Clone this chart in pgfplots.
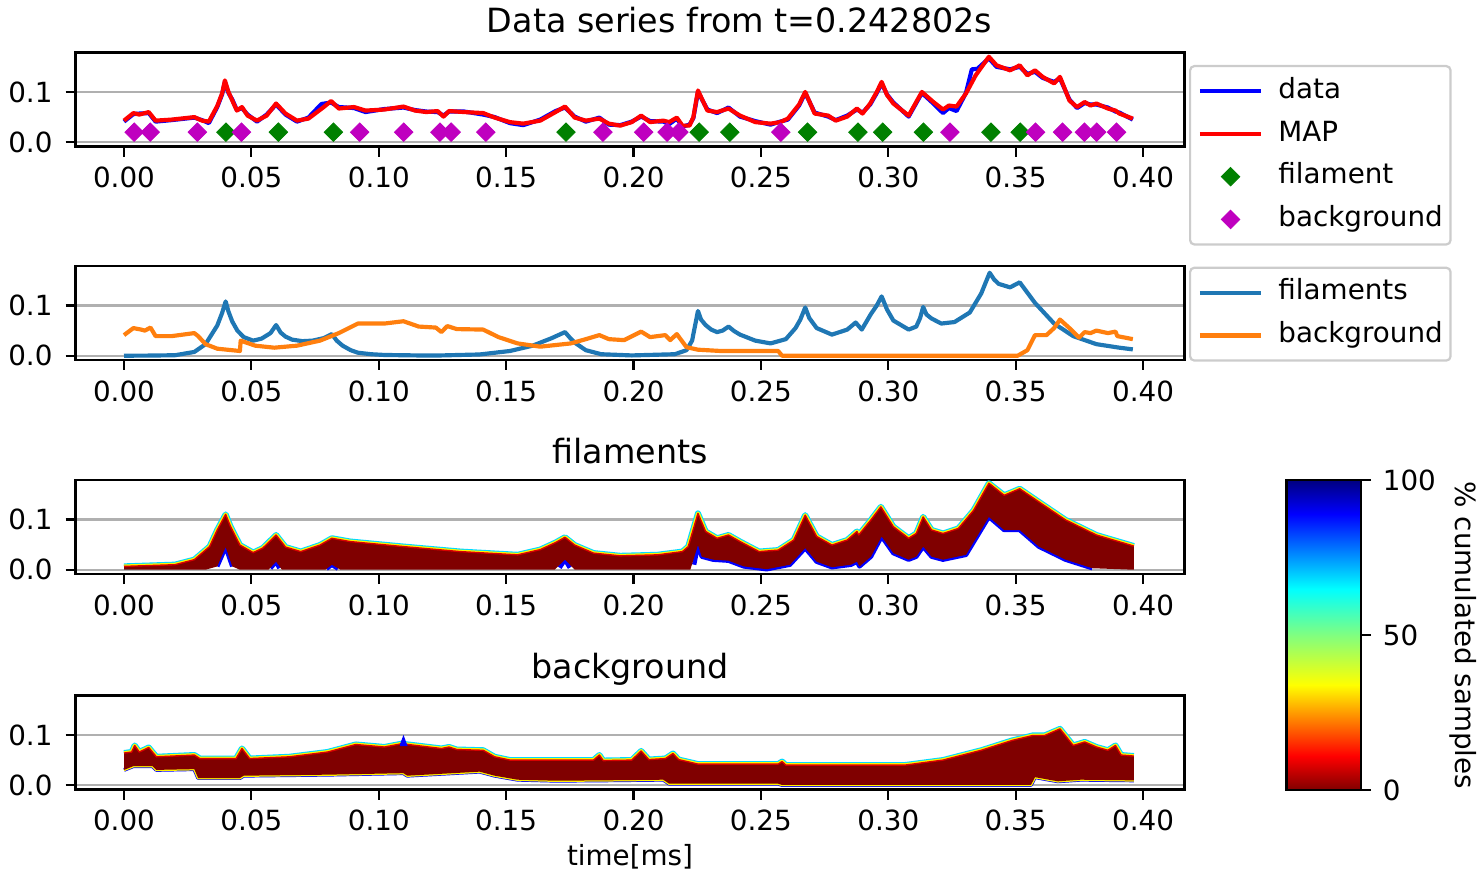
\documentclass[border=0pt]{standalone}
\usepackage{fontspec}
\setmainfont{DejaVu Sans}
\usepackage{pgfplots}
\usepackage{pgfplotstable}
\pgfplotsset{compat=1.18}

\definecolor{mplblue}{HTML}{1F77B4}
\definecolor{mplorange}{HTML}{FF7F0E}
\definecolor{mplgreen}{rgb}{0,0.5,0}
\definecolor{mplmagenta}{rgb}{0.75,0,0.75}
\definecolor{jetdark}{rgb}{0.5,0,0}
\definecolor{gridgray}{HTML}{B0B0B0}
\definecolor{legendedge}{HTML}{CCCCCC}
\definecolor{jetcyan}{rgb}{0,0.86,1}

% ---------------- measured signal and MAP estimate ----------------
\pgfplotstableread{
t v
0.0 0.041
0.0037 0.056
0.006 0.057
0.0097 0.058
0.0124 0.041
0.0187 0.044
0.0276 0.049
0.0306 0.044
0.0333 0.038
0.0366 0.070
0.0385 0.095
0.0396 0.120
0.041 0.098
0.0425 0.085
0.0443 0.064
0.0463 0.068
0.0485 0.055
0.0522 0.041
0.056 0.055
0.0597 0.075
0.0634 0.055
0.0679 0.041
0.0724 0.049
0.0775 0.076
0.0813 0.079
0.0843 0.070
0.0903 0.068
0.0948 0.060
0.1022 0.066
0.1097 0.069
0.1142 0.064
0.1187 0.061
0.1231 0.060
0.1254 0.053
0.1276 0.061
0.1336 0.061
0.141 0.055
0.1455 0.050
0.1515 0.038
0.1567 0.034
0.1634 0.045
0.1694 0.062
0.1731 0.069
0.1769 0.051
0.1813 0.041
0.1866 0.049
0.1903 0.035
0.1948 0.034
0.1993 0.041
0.203 0.051
0.2065 0.042
0.2117 0.041
0.214 0.036
0.217 0.047
0.2192 0.031
0.222 0.035
0.2235 0.048
0.2253 0.100
0.229 0.065
0.2328 0.058
0.2373 0.069
0.2418 0.051
0.2478 0.042
0.2538 0.035
0.2576 0.041
0.2606 0.045
0.265 0.073
0.2674 0.098
0.2711 0.059
0.2764 0.051
0.2794 0.044
0.2839 0.053
0.2877 0.065
0.2899 0.059
0.2929 0.075
0.2955 0.098
0.2974 0.117
0.2995 0.095
0.302 0.079
0.308 0.051
0.3132 0.098
0.3177 0.077
0.3215 0.058
0.3238 0.068
0.3268 0.062
0.3305 0.098
0.3328 0.145
0.3350 0.146
0.3395 0.167
0.3425 0.150
0.3478 0.145
0.3516 0.150
0.3546 0.136
0.3576 0.140
0.3606 0.128
0.3651 0.120
0.3674 0.127
0.3711 0.085
0.3741 0.068
0.3771 0.078
0.3794 0.075
0.3817 0.075
0.3862 0.069
0.3892 0.061
0.3907 0.059
0.396 0.045
}\measured

\pgfplotstableread{
t v
0.0 0.043
0.0037 0.058
0.006 0.055
0.0097 0.060
0.0124 0.043
0.0187 0.045
0.0276 0.050
0.0306 0.043
0.0333 0.041
0.0366 0.072
0.0385 0.097
0.0396 0.123
0.041 0.100
0.0425 0.083
0.0443 0.063
0.0463 0.070
0.0485 0.053
0.0522 0.043
0.056 0.053
0.0597 0.077
0.0634 0.057
0.0679 0.043
0.0724 0.047
0.0784 0.070
0.0813 0.082
0.0843 0.067
0.0903 0.070
0.0948 0.063
0.1022 0.065
0.1097 0.071
0.1142 0.063
0.1187 0.060
0.1231 0.062
0.1254 0.051
0.1276 0.062
0.1336 0.060
0.141 0.058
0.1455 0.049
0.1515 0.040
0.1567 0.037
0.1634 0.043
0.1694 0.060
0.1731 0.071
0.1769 0.049
0.1813 0.043
0.1866 0.047
0.1903 0.037
0.1948 0.033
0.1993 0.040
0.203 0.053
0.2065 0.040
0.2117 0.043
0.214 0.040
0.217 0.049
0.2192 0.033
0.222 0.033
0.2235 0.050
0.2253 0.103
0.229 0.063
0.2328 0.060
0.2373 0.067
0.2418 0.053
0.2478 0.040
0.2538 0.037
0.2576 0.040
0.2606 0.047
0.265 0.075
0.2674 0.100
0.2711 0.057
0.2764 0.053
0.2794 0.043
0.2839 0.051
0.2877 0.067
0.2899 0.057
0.2929 0.077
0.2955 0.100
0.2974 0.120
0.2995 0.094
0.302 0.077
0.308 0.053
0.3132 0.100
0.3177 0.080
0.3215 0.065
0.3238 0.073
0.3268 0.071
0.3305 0.097
0.3343 0.133
0.3395 0.170
0.3425 0.153
0.3478 0.143
0.3516 0.153
0.3546 0.133
0.3576 0.143
0.3606 0.130
0.3651 0.117
0.3674 0.130
0.3711 0.083
0.3741 0.070
0.3771 0.080
0.3794 0.073
0.3817 0.077
0.3862 0.067
0.3892 0.063
0.3907 0.057
0.396 0.047
}\mapest

\pgfplotstableread{
t v
0.0400 0.02
0.0606 0.02
0.0822 0.02
0.1735 0.02
0.2258 0.02
0.2378 0.02
0.2683 0.02
0.2881 0.02
0.2978 0.02
0.3138 0.02
0.3403 0.02
0.3518 0.02
}\filmarks

\pgfplotstableread{
t v
0.0040 0.02
0.0103 0.02
0.0288 0.02
0.0461 0.02
0.0925 0.02
0.1098 0.02
0.1240 0.02
0.1284 0.02
0.1420 0.02
0.1880 0.02
0.2040 0.02
0.2132 0.02
0.2178 0.02
0.2578 0.02
0.3242 0.02
0.3578 0.02
0.3684 0.02
0.3770 0.02
0.3818 0.02
0.3896 0.02
}\bgmarks

% ---------------- MAP decomposition ----------------
\pgfplotstableread{
t v
0 0
0.01 0.0003
0.02 0.001
0.0276 0.0075
0.032 0.023
0.0366 0.060
0.0385 0.085
0.0399 0.108
0.041 0.088
0.0425 0.068
0.0445 0.050
0.047 0.037
0.0507 0.030
0.054 0.034
0.0575 0.045
0.0597 0.061
0.0615 0.046
0.0634 0.038
0.066 0.032
0.0700 0.029
0.0740 0.030
0.0784 0.035
0.0816 0.043
0.0835 0.030
0.0858 0.020
0.089 0.011
0.0918 0.006
0.097 0.003
0.1022 0.0015
0.115 0.0006
0.1246 0.0006
0.1396 0.0025
0.1515 0.0094
0.1604 0.020
0.1679 0.035
0.1731 0.047
0.175 0.036
0.1769 0.026
0.1813 0.011
0.1873 0.003
0.1993 0.0006
0.2162 0.003
0.2208 0.011
0.223 0.030
0.2253 0.089
0.2265 0.072
0.2283 0.061
0.2305 0.052
0.2328 0.047
0.235 0.050
0.2373 0.058
0.2395 0.049
0.2418 0.042
0.2478 0.030
0.2538 0.0245
0.2598 0.033
0.2636 0.055
0.2655 0.072
0.2674 0.096
0.269 0.075
0.2719 0.055
0.2779 0.042
0.2839 0.052
0.2872 0.066
0.2896 0.052
0.2932 0.083
0.2955 0.100
0.2974 0.118
0.2995 0.092
0.302 0.070
0.308 0.052
0.311 0.058
0.3125 0.075
0.3137 0.097
0.315 0.082
0.317 0.074
0.3208 0.064
0.326 0.067
0.332 0.086
0.3365 0.124
0.3398 0.165
0.3415 0.152
0.3433 0.143
0.3478 0.136
0.3516 0.146
0.3576 0.105
0.3651 0.064
0.3726 0.039
0.3817 0.023
0.3907 0.016
0.396 0.0126
}\mapfil

\pgfplotstableread{
t v
0 0.041
0.0037 0.055
0.0067 0.052
0.0082 0.050
0.0104 0.056
0.0124 0.039
0.0187 0.039
0.0276 0.045
0.0291 0.039
0.032 0.023
0.0366 0.014
0.0455 0.0094
0.0458 0.030
0.0515 0.020
0.059 0.016
0.0679 0.020
0.0769 0.030
0.0843 0.045
0.0918 0.064
0.1022 0.064
0.1097 0.0686
0.1157 0.058
0.1224 0.056
0.1246 0.047
0.1269 0.059
0.1306 0.053
0.141 0.052
0.147 0.037
0.1545 0.0245
0.1634 0.018
0.1754 0.0245
0.1813 0.033
0.1866 0.041
0.1903 0.033
0.1963 0.031
0.203 0.048
0.2065 0.037
0.2125 0.041
0.2144 0.031
0.217 0.043
0.2208 0.017
0.2253 0.012
0.2343 0.0094
0.2568 0.0094
0.2583 0.0
0.3508 0.0
0.3546 0.011
0.3576 0.041
0.3621 0.041
0.3651 0.055
0.3674 0.072
0.3711 0.055
0.3749 0.036
0.3771 0.047
0.3794 0.045
0.3817 0.050
0.3862 0.045
0.3892 0.048
0.3899 0.039
0.396 0.033
}\mapbg

% ---------------- filament samples: upper envelope ----------------
\pgfplotstableread{
t v
0 0.0066
0.02 0.010
0.0276 0.020
0.0336 0.046
0.0366 0.079
0.0399 0.110
0.0418 0.086
0.0455 0.049
0.0507 0.034
0.0545 0.043
0.0597 0.069
0.0634 0.045
0.0694 0.036
0.0769 0.049
0.0816 0.0625
0.0888 0.056
0.1097 0.046
0.1321 0.036
0.1545 0.0296
0.1634 0.040
0.1694 0.054
0.1731 0.0645
0.1769 0.049
0.1843 0.033
0.1948 0.0276
0.2094 0.0296
0.2192 0.036
0.2215 0.046
0.2253 0.112
0.2283 0.076
0.2328 0.0625
0.2373 0.069
0.2418 0.056
0.2493 0.036
0.2568 0.039
0.2629 0.059
0.2674 0.1085
0.2719 0.066
0.2779 0.049
0.2839 0.059
0.2877 0.076
0.2884 0.069
0.2932 0.099
0.2971 0.125
0.302 0.0855
0.308 0.0625
0.311 0.072
0.3137 0.105
0.317 0.079
0.3215 0.072
0.3275 0.082
0.3335 0.118
0.3395 0.172
0.3455 0.148
0.3516 0.161
0.3591 0.135
0.3696 0.099
0.3817 0.069
0.3964 0.047
}\filup

% filament samples: full band (upper envelope, then lower envelope backwards)
\pgfplotstableread{
t v
0 0.0066
0.02 0.010
0.0276 0.020
0.0336 0.046
0.0366 0.079
0.0399 0.110
0.0418 0.086
0.0455 0.049
0.0507 0.034
0.0545 0.043
0.0597 0.069
0.0634 0.045
0.0694 0.036
0.0769 0.049
0.0816 0.0625
0.0888 0.056
0.1097 0.046
0.1321 0.036
0.1545 0.0296
0.1634 0.040
0.1694 0.054
0.1731 0.0645
0.1769 0.049
0.1843 0.033
0.1948 0.0276
0.2094 0.0296
0.2192 0.036
0.2215 0.046
0.2253 0.112
0.2283 0.076
0.2328 0.0625
0.2373 0.069
0.2418 0.056
0.2493 0.036
0.2568 0.039
0.2629 0.059
0.2674 0.1085
0.2719 0.066
0.2779 0.049
0.2839 0.059
0.2877 0.076
0.2884 0.069
0.2932 0.099
0.2971 0.125
0.302 0.0855
0.308 0.0625
0.311 0.072
0.3137 0.105
0.317 0.079
0.3215 0.072
0.3275 0.082
0.3335 0.118
0.3395 0.172
0.3455 0.148
0.3516 0.161
0.3591 0.135
0.3696 0.099
0.3817 0.069
0.3964 0.047
0.3964 0
0.3801 0.003
0.3696 0.020
0.3591 0.046
0.3516 0.079
0.3455 0.079
0.3395 0.105
0.3305 0.0296
0.3215 0.020
0.317 0.026
0.3137 0.046
0.311 0.026
0.308 0.020
0.302 0.033
0.2974 0.066
0.2932 0.026
0.2887 0.0066
0.2877 0.016
0.2854 0.010
0.2779 0.005
0.2719 0.016
0.2674 0.043
0.2614 0.010
0.2523 0.001
0.2433 0.0066
0.2373 0.018
0.2313 0.020
0.2268 0.026
0.2253 0.049
0.2223 0
0.177 0
0.1731 0.020
0.169 0
0.085 0
0.0816 0.010
0.079 0
0.062 0
0.0597 0.016
0.0567 0
0.0455 0
0.0425 0.0066
0.0399 0.045
0.0366 0.0066
0.032 0
0 0
}\filband

% ---------------- background samples: upper envelope ----------------
\pgfplotstableread{
t v
0 0.064
0.003 0.066
0.0042 0.079
0.006 0.066
0.0097 0.075
0.0127 0.0565
0.0276 0.060
0.0298 0.053
0.044 0.053
0.0463 0.073
0.0493 0.053
0.0649 0.0565
0.0799 0.066
0.091 0.081
0.1022 0.076
0.109 0.0825
0.1246 0.073
0.1276 0.076
0.1306 0.071
0.141 0.0695
0.1455 0.0565
0.1515 0.050
0.1843 0.050
0.1866 0.060
0.1881 0.049
0.1993 0.050
0.203 0.068
0.206 0.051
0.2125 0.053
0.2155 0.063
0.2177 0.051
0.2253 0.042
0.2568 0.042
0.2583 0.047
0.2598 0.040
0.3065 0.040
0.3215 0.050
0.3365 0.0695
0.3486 0.089
0.3568 0.099
0.3614 0.099
0.3674 0.112
0.3726 0.079
0.3771 0.086
0.3817 0.076
0.3862 0.0695
0.3892 0.079
0.3914 0.060
0.3964 0.058
}\bgup

% background samples: lower envelope
\pgfplotstableread{
t v
0 0.0305
0.0037 0.038
0.0112 0.038
0.0127 0.0305
0.0276 0.032
0.0291 0.0143
0.0455 0.0143
0.047 0.019
0.0799 0.021
0.1097 0.024
0.1112 0.019
0.1396 0.027
0.1455 0.019
0.1545 0.011
0.1694 0.009
0.1881 0.0097
0.2117 0.011
0.214 0.003
0.2568 0.003
0.2583 0.0005
0.356 0.0005
0.3576 0.016
0.3666 0.0078
0.3756 0.011
0.3964 0.0097
}\bglo

% background samples: full band
\pgfplotstableread{
t v
0 0.064
0.003 0.066
0.0042 0.079
0.006 0.066
0.0097 0.075
0.0127 0.0565
0.0276 0.060
0.0298 0.053
0.044 0.053
0.0463 0.073
0.0493 0.053
0.0649 0.0565
0.0799 0.066
0.091 0.081
0.1022 0.076
0.109 0.0825
0.1246 0.073
0.1276 0.076
0.1306 0.071
0.141 0.0695
0.1455 0.0565
0.1515 0.050
0.1843 0.050
0.1866 0.060
0.1881 0.049
0.1993 0.050
0.203 0.068
0.206 0.051
0.2125 0.053
0.2155 0.063
0.2177 0.051
0.2253 0.042
0.2568 0.042
0.2583 0.047
0.2598 0.040
0.3065 0.040
0.3215 0.050
0.3365 0.0695
0.3486 0.089
0.3568 0.099
0.3614 0.099
0.3674 0.112
0.3726 0.079
0.3771 0.086
0.3817 0.076
0.3862 0.0695
0.3892 0.079
0.3914 0.060
0.3964 0.058
0.3964 0.0097
0.3756 0.011
0.3666 0.0078
0.3576 0.016
0.356 0.0005
0.2583 0.0005
0.2568 0.003
0.214 0.003
0.2117 0.011
0.1881 0.0097
0.1694 0.009
0.1545 0.011
0.1455 0.019
0.1396 0.027
0.1112 0.019
0.1097 0.024
0.0799 0.021
0.047 0.019
0.0455 0.0143
0.0291 0.0143
0.0276 0.032
0.0127 0.0305
0.0112 0.038
0.0037 0.038
0 0.0305
}\bgband

\pgfplotsset{
  /pgf/number format/assume math mode=true,
  colormap={jetrev}{rgb255(0pt)=(128,0,0) rgb255(11pt)=(255,0,0)
    rgb255(34pt)=(255,255,0) rgb255(50pt)=(128,255,128)
    rgb255(65pt)=(0,255,255) rgb255(89pt)=(0,0,255) rgb255(100pt)=(0,0,128)},
  panel/.style={
    scale only axis, width=399.24pt, height=33.84pt,
    anchor=south west,
    xmin=-0.01904, xmax=0.41629, ymin=-0.0085, ymax=0.1785,
    xtick={0,0.05,0.1,0.15,0.2,0.25,0.3,0.35,0.4},
    ytick={0,0.1},
    scaled ticks=false,
    xtick pos=bottom, ytick pos=left,
    tick align=outside, major tick length=3.6pt,
    tick style={black, line width=0.8pt},
    axis line style={line width=0.8pt},
    ymajorgrids, major grid style={gridgray, line width=0.8pt},
    xticklabel style={/pgf/number format/fixed, /pgf/number format/fixed zerofill,
      /pgf/number format/precision=2, anchor=north, inner sep=0pt, yshift=-3.6pt},
    yticklabel style={/pgf/number format/fixed, /pgf/number format/fixed zerofill,
      /pgf/number format/precision=1, anchor=east, inner sep=0pt, xshift=-4.5pt},
  },
  mpllegend/.style={
    legend cell align=left,
    legend style={anchor=north west, draw=legendedge, line width=0.8pt,
      rounded corners=1.5pt, fill=white, inner xsep=2.8pt, inner ysep=4pt,
      row sep=5.4pt, nodes={inner sep=0pt, text height=7.6pt, text depth=2.4pt},
      /tikz/every odd column/.append style={column sep=5.5pt}},
    legend image code/.code={\draw[##1] (0pt,0pt) -- (22pt,0pt);},
  },
  markleg/.style={
    legend image code/.code={\draw[mark repeat=2, mark phase=2, ##1]
      plot coordinates {(0pt,0pt) (11pt,0pt) (22pt,0pt)};},
  },
}

\begin{document}
\begin{tikzpicture}
\path[use as bounding box] (0,0) rectangle (532.44pt,316.44pt);

\node[anchor=base, font=\fontsize{12}{14}\selectfont] at (266.22pt,304.56pt)
  {Data series from t=0.242802s};

% signal, MAP and the per-sample labels
\begin{axis}[panel, mpllegend, at={(27.18pt,263.7pt)},
  legend style={at={(1.00406,0.867)}}]
\addplot[blue, line width=1.5pt, line join=round] table {\measured};
\addlegendentry{data}
\addplot[red, line width=1.5pt, line join=round] table {\mapest};
\addlegendentry{MAP}
\addplot[markleg, only marks, mark=square*, mark size=2.35pt, color=mplgreen,
  mark options={rotate=45, fill=mplgreen, draw=mplgreen, line width=0.3pt}] table {\filmarks};
\addlegendentry{filament}
\addplot[markleg, only marks, mark=square*, mark size=2.35pt, color=mplmagenta,
  mark options={rotate=45, fill=mplmagenta, draw=mplmagenta, line width=0.3pt}] table {\bgmarks};
\addlegendentry{background}
\end{axis}

% MAP split into its two components
\begin{axis}[panel, mpllegend, at={(27.18pt,186.84pt)},
  legend style={at={(1.00406,0.993)}}]
\addplot[mplblue, line width=1.5pt, line join=round] table {\mapfil};
\addlegendentry{filaments}
\addplot[mplorange, line width=1.5pt, line join=round] table {\mapbg};
\addlegendentry{background}
\end{axis}

% filament samples
\begin{axis}[panel, at={(27.18pt,109.8pt)}]
\addplot[jetcyan, line width=2.2pt, line join=round] table {\filup};
\addplot[yellow, line width=1.4pt, line join=round] table {\filup};
\addplot[blue, line width=1.6pt, line join=round] coordinates {(0.0366,0.0066) (0.0399,0.045) (0.0425,0.0066)};
\addplot[blue, line width=1.6pt, line join=round] coordinates {(0.0575,0.003) (0.0597,0.016) (0.061,0.003)};
\addplot[blue, line width=1.6pt, line join=round] coordinates {(0.0795,0.002) (0.0816,0.010) (0.084,0.002)};
\addplot[blue, line width=1.6pt, line join=round] coordinates {(0.171,0.004) (0.1731,0.020) (0.175,0.004)};
\addplot[blue, line width=1.6pt, line join=round] coordinates {(0.2238,0.01) (0.2253,0.049) (0.2268,0.026) (0.2313,0.020) (0.2373,0.018) (0.2433,0.0066) (0.2523,0.001) (0.2614,0.010) (0.2674,0.043) (0.2719,0.016) (0.2779,0.005) (0.2854,0.010) (0.2877,0.016) (0.2887,0.0066) (0.2932,0.026) (0.2974,0.066) (0.302,0.033) (0.308,0.020) (0.311,0.026) (0.3137,0.046) (0.317,0.026) (0.3215,0.020) (0.3305,0.0296) (0.3395,0.105) (0.3455,0.079) (0.3516,0.079) (0.3591,0.046) (0.3696,0.020) (0.3801,0.003)};
\addplot[jetdark, fill=jetdark, draw=none] table {\filband} -- cycle;
\addplot[red!85!black, line width=0.5pt, line join=round] table {\filup};
\end{axis}
\node[anchor=base, font=\fontsize{12}{14}\selectfont] at (226.8pt,149.58pt) {filaments};

% background samples
\begin{axis}[panel, at={(27.18pt,32.22pt)},
  xlabel={time[ms]},
  xlabel style={at={(0.5,0)}, anchor=base, yshift=-27.5pt}]
\addplot[jetcyan, line width=2.2pt, line join=round] table {\bgup};
\addplot[yellow, line width=1.4pt, line join=round] table {\bgup};
\addplot[blue, line width=1.4pt, line join=round] table {\bglo};
\addplot[yellow, line width=0.9pt, line join=round] table {\bglo};
\addplot[jetdark, fill=jetdark, draw=none] table {\bgband} -- cycle;
\addplot[red!85!black, line width=0.5pt, line join=round] table {\bgup};
\addplot[blue, fill=blue, line width=0.4pt] coordinates {(0.1084,0.079) (0.1097,0.097) (0.1110,0.079) (0.1084,0.079)};
\end{axis}
\node[anchor=base, font=\fontsize{12}{14}\selectfont] at (226.8pt,72.18pt) {background};

% colour scale of the sample density
\begin{axis}[at={(463.14pt,32.04pt)}, anchor=south west,
  scale only axis, width=26.9pt, height=111.6pt,
  xmin=0, xmax=1, ymin=0, ymax=100,
  xtick=\empty, ytick={0,50,100},
  ytick pos=right, yticklabel pos=right,
  tick align=outside, major tick length=3.6pt,
  tick style={black, line width=0.8pt},
  axis line style={line width=0.8pt},
  yticklabel style={anchor=west, inner sep=0pt, xshift=4pt},
  axis on top, colormap name=jetrev]
\addplot[surf, shader=interp, point meta=y] coordinates {
(0,0) (1,0)

(0,11) (1,11)

(0,34) (1,34)

(0,50) (1,50)

(0,65) (1,65)

(0,89) (1,89)

(0,100) (1,100)
};
\end{axis}

\node[rotate=-90, anchor=base] at (523.8pt,87.66pt) {\% cumulated samples};
\end{tikzpicture}
\end{document}
